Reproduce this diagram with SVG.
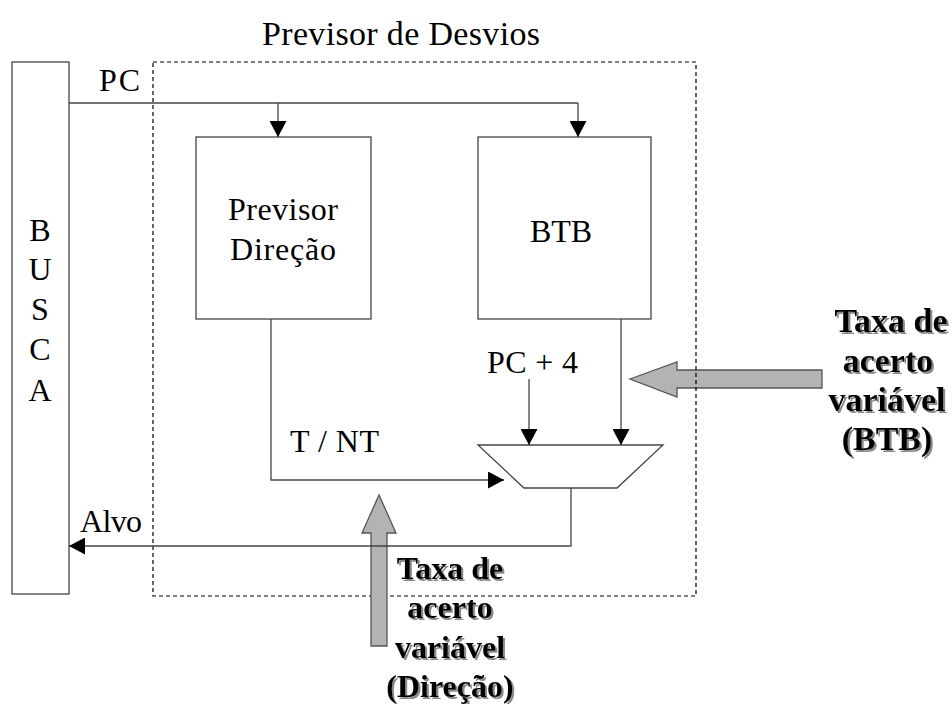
<svg xmlns="http://www.w3.org/2000/svg" width="952" height="704" viewBox="0 0 952 704">
  <style>
    text { font-family: 'Liberation Serif', 'Times New Roman', 'DejaVu Serif', serif; }
    .lbl { font-size: 32px; fill: #000; }
    .title { font-size: 34px; }
    .bold { font-size: 32px; font-weight: bold; fill: #000; text-anchor: middle; filter: url(#shadow); }
    .bold.big { font-size: 34px; }
    .box { fill: #fff; stroke: #444; stroke-width: 1.3; }
    .wire { fill: none; stroke: #444; stroke-width: 1.3; }
    .fat { fill: #b3b3b3; stroke: #555; stroke-width: 1.3; }
  </style>
  <defs>
    <marker id="head" viewBox="0 0 16 17" refX="16" refY="8.5" markerWidth="16" markerHeight="17" markerUnits="userSpaceOnUse" orient="auto">
      <path d="M0,0 L16,8.5 L0,17 Z" fill="#000"/>
    </marker>
    <filter id="shadow" x="-10%" y="-10%" width="130%" height="140%">
      <feDropShadow dx="2" dy="2" stdDeviation="0.6" flood-color="#8a8a8a" flood-opacity="1"/>
    </filter>
  </defs>
  <rect width="952" height="704" fill="#fff"/>

  <!-- title -->
  <text class="lbl title" x="262" y="45" textLength="278">Previsor de Desvios</text>

  <!-- wide gray arrow into the BTB path -->
  <polygon class="fat" points="630,379 677,362 677,370 822,370 822,388 677,388 677,397"/>

  <!-- predictor boundary -->
  <rect x="153" y="62" width="543" height="534" fill="none" stroke="#000" stroke-width="1.2" stroke-dasharray="4 3"/>

  <!-- wide gray arrow into the direction path -->
  <polygon class="fat" points="379,495 396,533 387,533 387,646 371,646 371,533 362,533"/>

  <g id="busca">
    <rect class="box" x="12" y="62" width="57" height="532" stroke="#222"/>
    <text class="lbl" text-anchor="middle" x="40" y="241">B</text>
    <text class="lbl" text-anchor="middle" x="40" y="280">U</text>
    <text class="lbl" text-anchor="middle" x="40" y="320">S</text>
    <text class="lbl" text-anchor="middle" x="40" y="360">C</text>
    <text class="lbl" text-anchor="middle" x="40" y="401">A</text>
  </g>

  <g id="previsor-direcao">
    <rect class="box" x="196" y="137" width="175" height="182"/>
    <text class="lbl" x="228" y="220" textLength="110">Previsor</text>
    <text class="lbl" x="230" y="260" textLength="106">Direção</text>
  </g>

  <g id="btb">
    <rect class="box" x="478" y="137" width="173" height="182"/>
    <text class="lbl" text-anchor="middle" x="561" y="242">BTB</text>
  </g>

  <g id="mux">
    <polygon class="box" points="478,445 663,445 617,488 524,488"/>
  </g>

  <g id="connectors">
    <path class="wire" d="M69,103 H578"/>
    <path class="wire" d="M278,103 V137" marker-end="url(#head)"/>
    <path class="wire" d="M578,103 V137" marker-end="url(#head)"/>
    <path class="wire" d="M271,319 V480 H504" marker-end="url(#head)"/>
    <path class="wire" d="M621,319 V445" marker-end="url(#head)"/>
    <path class="wire" d="M529,379 V445" marker-end="url(#head)"/>
    <path class="wire" d="M571,488 V546 H69" marker-end="url(#head)"/>
  </g>

  <g id="wire-labels">
    <text class="lbl" x="99" y="91" textLength="41">PC</text>
    <text class="lbl" x="487" y="373" textLength="91">PC + 4</text>
    <text class="lbl" x="290" y="452" textLength="89">T / NT</text>
    <text class="lbl" x="80" y="532" textLength="62">Alvo</text>
  </g>

  <g id="nota-btb">
    <text class="bold big" x="891" y="332">Taxa de</text>
    <text class="bold big" x="888" y="372">acerto</text>
    <text class="bold big" x="887" y="411">variável</text>
    <text class="bold big" x="887" y="450">(BTB)</text>
  </g>

  <g id="nota-direcao">
    <text class="bold" x="450" y="579">Taxa de</text>
    <text class="bold" x="450" y="618">acerto</text>
    <text class="bold" x="450" y="658">variável</text>
    <text class="bold" x="450" y="697">(Direção)</text>
  </g>
</svg>
